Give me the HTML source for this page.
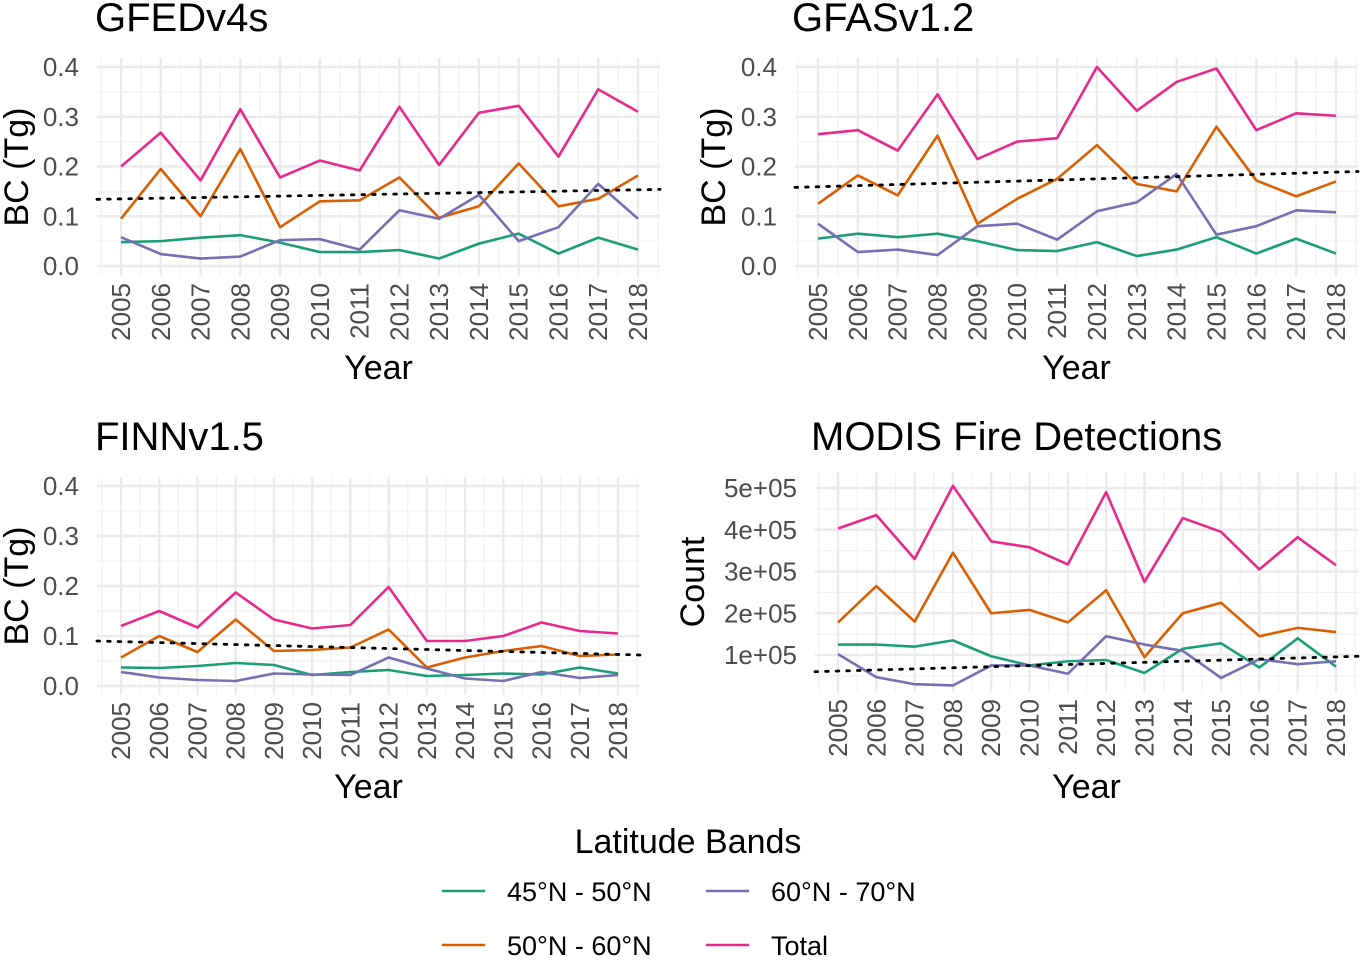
<!DOCTYPE html>
<html><head><meta charset="utf-8"><style>
body{margin:0;background:#fff;}
svg text{font-family:"Liberation Sans",sans-serif;}
</style></head><body>
<svg id="chart" width="1361" height="957" xmlns="http://www.w3.org/2000/svg"></svg>
<script>
const years = [2005,2006,2007,2008,2009,2010,2011,2012,2013,2014,2015,2016,2017,2018];
const seriesNames = ["45°N - 50°N","50°N - 60°N","60°N - 70°N","Total"];
const seriesColors = ["#1B9E77","#D95F02","#7570B3","#E7298A"];
const gfedBand45 = [0.048,0.05,0.057,0.062,0.047,0.028,0.028,0.032,0.015,0.045,0.065,0.025,0.057,0.033];
const gfedBand50 = [0.095,0.195,0.10,0.235,0.078,0.13,0.132,0.178,0.097,0.12,0.206,0.12,0.135,0.182];
const gfedBand60 = [0.058,0.024,0.015,0.019,0.052,0.054,0.033,0.112,0.095,0.143,0.05,0.078,0.165,0.095];
const gfedTotal = [0.20,0.268,0.172,0.315,0.178,0.212,0.192,0.32,0.203,0.308,0.322,0.22,0.355,0.31];
const gfedTrend = [0.134,0.154];
const gfasBand45 = [0.055,0.065,0.058,0.065,0.05,0.032,0.03,0.048,0.02,0.033,0.058,0.025,0.055,0.025];
const gfasBand50 = [0.125,0.182,0.142,0.262,0.085,0.135,0.175,0.243,0.165,0.15,0.28,0.172,0.14,0.17];
const gfasBand60 = [0.085,0.028,0.033,0.022,0.08,0.085,0.053,0.11,0.128,0.185,0.063,0.08,0.112,0.108];
const gfasTotal = [0.265,0.273,0.232,0.345,0.215,0.25,0.257,0.40,0.312,0.37,0.397,0.273,0.307,0.302];
const gfasTrend = [0.158,0.19];
const finnBand45 = [0.037,0.036,0.04,0.046,0.042,0.022,0.028,0.032,0.02,0.022,0.025,0.023,0.037,0.025];
const finnBand50 = [0.057,0.1,0.068,0.133,0.07,0.072,0.077,0.113,0.037,0.057,0.07,0.08,0.06,0.063];
const finnBand60 = [0.028,0.017,0.012,0.01,0.025,0.023,0.022,0.057,0.035,0.015,0.01,0.028,0.016,0.022];
const finnTotal = [0.12,0.15,0.117,0.187,0.133,0.115,0.122,0.198,0.09,0.09,0.10,0.127,0.11,0.105];
const finnTrend = [0.09,0.062];
const modisBand45 = [1.25e5,1.25e5,1.2e5,1.35e5,0.97e5,0.75e5,0.85e5,0.88e5,0.57e5,1.15e5,1.28e5,0.7e5,1.4e5,0.72e5];
const modisBand50 = [1.78e5,2.65e5,1.8e5,3.45e5,2.0e5,2.08e5,1.78e5,2.55e5,0.95e5,2.0e5,2.25e5,1.45e5,1.65e5,1.55e5];
const modisBand60 = [1.02e5,0.47e5,0.3e5,0.27e5,0.75e5,0.75e5,0.55e5,1.45e5,1.25e5,1.1e5,0.45e5,0.9e5,0.78e5,0.85e5];
const modisTotal = [4.03e5,4.35e5,3.3e5,5.05e5,3.72e5,3.58e5,3.17e5,4.9e5,2.75e5,4.28e5,3.95e5,3.05e5,3.82e5,3.15e5];
const modisTrend = [0.6e5,0.97e5];
const bcTicks = [0,0.1,0.2,0.3,0.4];
const bcTickLabels = ["0.0","0.1","0.2","0.3","0.4"];
const countTicks = [1e5,2e5,3e5,4e5,5e5];
const countTickLabels = ["1e+05","2e+05","3e+05","4e+05","5e+05"];

const NS="http://www.w3.org/2000/svg";
const svg=document.getElementById('chart');
function mk(tag,attrs,parent){const e=document.createElementNS(NS,tag);for(const k in attrs)e.setAttribute(k,attrs[k]);(parent||svg).appendChild(e);return e;}

function panel(cfg){
  const g=mk('g',{});
  
  
  const xs=yr=>cfg.x0+(yr-2005)*(cfg.x1-cfg.x0)/13;
  const ys=v=>cfg.yZero+(v-cfg.v0)*(cfg.yTop-cfg.yZero)/(cfg.vTop-cfg.v0);
  const dx=(cfg.x1-cfg.x0)/13;
  for(let i=0;i<=14;i++){const x=cfg.x0+(i-0.5)*dx;if(x<cfg.px0||x>cfg.px1)continue;
    mk('line',{x1:x,x2:x,y1:cfg.pyTop,y2:cfg.pyBot,stroke:'#f2f2f2','stroke-width':1.2},g);}
  const step=cfg.ticks[1]-cfg.ticks[0];
  for(let i=-1;i<cfg.ticks.length;i++){const y=ys(cfg.ticks[0]+(i+0.5)*step);if(y<cfg.pyTop||y>cfg.pyBot)continue;
    mk('line',{x1:cfg.px0,x2:cfg.px1,y1:y,y2:y,stroke:'#f2f2f2','stroke-width':1.2},g);}
  years.forEach(yr=>{const x=xs(yr);mk('line',{x1:x,x2:x,y1:cfg.pyTop,y2:cfg.pyBot,stroke:'#ebebeb','stroke-width':2.4},g);
    const t=mk('text',{x:0,y:0,transform:`translate(${x+9},${cfg.pyBot+7}) rotate(-90)`,'text-anchor':'end','font-size':26,fill:'#4d4d4d'},g);t.textContent=yr;
    
    });
  cfg.ticks.forEach((v,i)=>{const y=ys(v);mk('line',{x1:cfg.px0,x2:cfg.px1,y1:y,y2:y,stroke:'#ebebeb','stroke-width':2.4},g);
    const t=mk('text',{x:cfg.px0-18,y:y+9,'text-anchor':'end','font-size':26,fill:'#4d4d4d'},g);t.textContent=cfg.labels[i];
    
    });
  cfg.series.forEach((arr,si)=>{
    const p=mk('polyline',{points:arr.map((v,i)=>xs(years[i])+','+ys(v)).join(' '),fill:'none',stroke:seriesColors[si],'stroke-width':2.6,'stroke-linejoin':'round'},g);
    
    
  });
  const tr=mk('line',{x1:cfg.px0,x2:cfg.px1,y1:ys(cfg.trend[0]),y2:ys(cfg.trend[1]),stroke:'#000','stroke-width':2.8,'stroke-dasharray':'2.6 8','stroke-linecap':'round'},g);
  
  
  const ti=mk('text',{x:cfg.titleX,y:cfg.titleY,'font-size':40,fill:'#000'},g);ti.textContent=cfg.title;
  
  
  const yt=mk('text',{x:0,y:0,transform:`translate(${cfg.yTitleX},${(cfg.pyTop+cfg.pyBot)/2}) rotate(-90)`,'text-anchor':'middle','font-size':34,fill:'#000'},g);yt.textContent=cfg.yTitle;
  
  
  const xt=mk('text',{x:(cfg.px0+cfg.px1)/2,y:cfg.xTitleY,'text-anchor':'middle','font-size':34,fill:'#000'},g);xt.textContent='Year';
  
  
}
panel({name:'gfed-panel',title:'GFEDv4s',titleX:95,titleY:31,x0:121,x1:638,px0:97,px1:660,pyTop:58,pyBot:276,yZero:266,yTop:67,v0:0,vTop:0.4,ticks:bcTicks,labels:bcTickLabels,series:[gfedBand45,gfedBand50,gfedBand60,gfedTotal],trend:gfedTrend,yTitle:'BC (Tg)',yTitleX:28,xTitleY:379});
panel({name:'gfas-panel',title:'GFASv1.2',titleX:792,titleY:31,x0:818,x1:1336,px0:795,px1:1358,pyTop:58,pyBot:276,yZero:266,yTop:67,v0:0,vTop:0.4,ticks:bcTicks,labels:bcTickLabels,series:[gfasBand45,gfasBand50,gfasBand60,gfasTotal],trend:gfasTrend,yTitle:'BC (Tg)',yTitleX:725,xTitleY:379});
panel({name:'finn-panel',title:'FINNv1.5',titleX:95,titleY:450,x0:121,x1:618,px0:97,px1:640,pyTop:477,pyBot:695,yZero:686,yTop:486,v0:0,vTop:0.4,ticks:bcTicks,labels:bcTickLabels,series:[finnBand45,finnBand50,finnBand60,finnTotal],trend:finnTrend,yTitle:'BC (Tg)',yTitleX:28,xTitleY:798});
panel({name:'modis-panel',title:'MODIS Fire Detections',titleX:811,titleY:450,x0:838,x1:1336,px0:815,px1:1358,pyTop:472,pyBot:692,yZero:655,yTop:488,v0:1e5,vTop:5e5,ticks:countTicks,labels:countTickLabels,series:[modisBand45,modisBand50,modisBand60,modisTotal],trend:modisTrend,yTitle:'Count',yTitleX:704,xTitleY:798});

const lg=mk('g',{});


const lt=mk('text',{x:688,y:853,'text-anchor':'middle','font-size':34,fill:'#000'},lg);lt.textContent='Latitude Bands';
const legPos=[[442,891],[442,945],[706,891],[706,945]];
seriesNames.forEach((n,i)=>{
  const e=mk('g',{},lg);
  
  
  mk('line',{x1:legPos[i][0],x2:legPos[i][0]+43,y1:legPos[i][1],y2:legPos[i][1],stroke:seriesColors[i],'stroke-width':2.6},e);
  const t=mk('text',{x:legPos[i][0]+65,y:legPos[i][1]+10,'font-size':27,fill:'#000'},e);t.textContent=n;
});
</script>
</body></html>
